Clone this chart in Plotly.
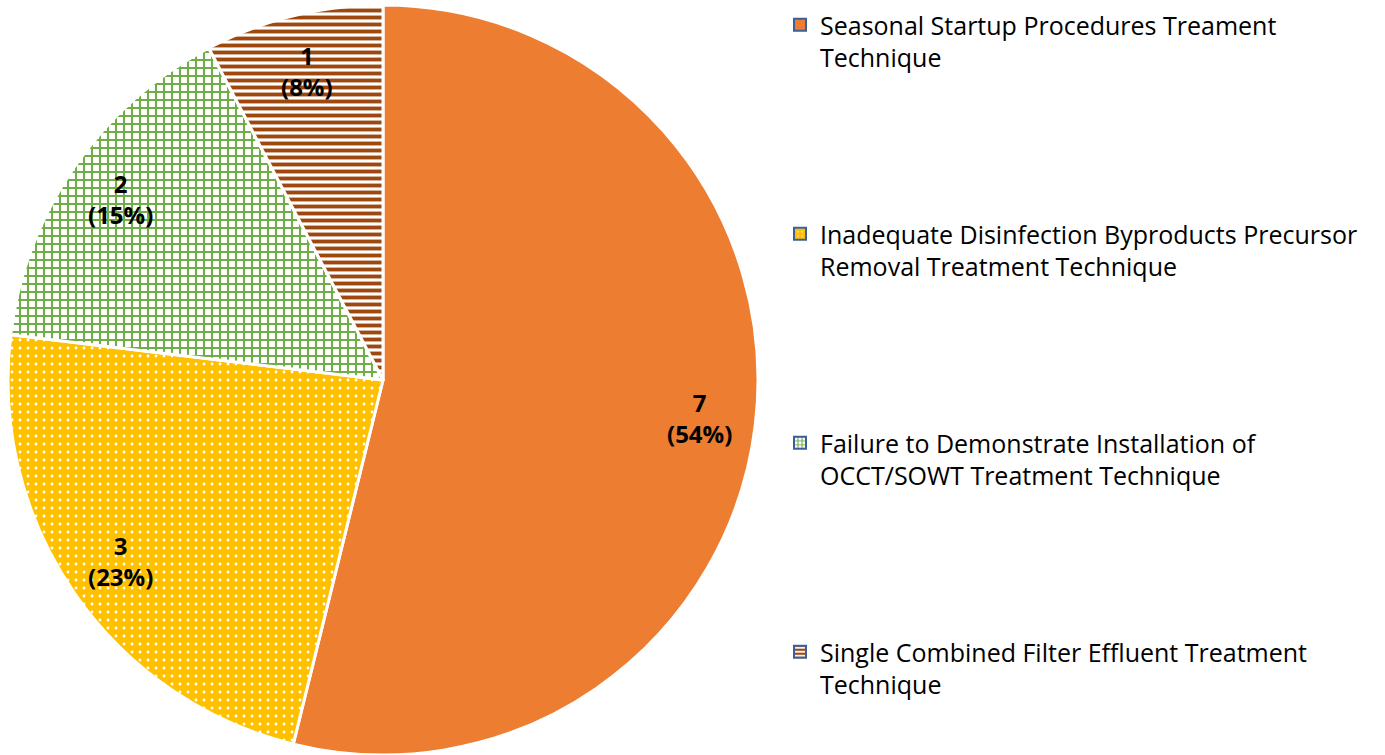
import math
import plotly.graph_objects as go

labels = [
    "Seasonal Startup Procedures Treament<br>Technique",
    "Inadequate Disinfection Byproducts Precursor<br>Removal Treatment Technique",
    "Failure to Demonstrate Installation of<br>OCCT/SOWT Treatment Technique",
    "Single Combined Filter Effluent Treatment<br>Technique",
]
counts = [7, 3, 2, 1]
percents = ["54%", "23%", "15%", "8%"]

bg_colors = ["#ED7D31", "#FFC000", "#FFFFFF", "#FFFFFF"]
fg_colors = ["#ED7D31", "#FFFFFF", "#70AD47", "#9E480E"]
shapes = ["", ".", "+", "-"]
sizes = [8, 8, 8, 7]
solids = [0.3, 0.1, 0.45, 0.55]

W, H = 1385, 755
CX, CY, R = 383, 380, 375

fig = go.Figure()
fig.add_trace(go.Pie(
    labels=labels, values=counts, sort=False, direction="clockwise",
    textinfo="none", hoverinfo="label+value+percent", showlegend=False,
    marker=dict(colors=bg_colors, line=dict(color="white", width=3),
                pattern=dict(shape=shapes, fgcolor=fg_colors, bgcolor=bg_colors,
                             size=sizes, solidity=solids, fillmode="replace")),
    domain=dict(x=[(CX - R) / W, (CX + R) / W],
                y=[1 - (CY + R) / H, 1 - (CY - R) / H]),
))

# legend entries via dummy bar traces (to style legend swatches)
for i, lab in enumerate(labels):
    fig.add_trace(go.Bar(
        x=[None], y=[None], name=lab, legendgroup=f"g{i}", showlegend=True,
        marker=dict(color=bg_colors[i], line=dict(color="#3A5F9B", width=2),
                    pattern=dict(shape=shapes[i], fgcolor=fg_colors[i], bgcolor=bg_colors[i],
                                 size=5, solidity=solids[i], fillmode="replace")),
    ))

# slice labels
total = sum(counts)
cum = 0
for c, p in zip(counts, percents):
    mid = (cum + c / 2) / total * 2 * math.pi
    cum += c
    px = CX + 0.85 * R * math.sin(mid)
    py = CY - 0.85 * R * math.cos(mid)
    fig.add_annotation(
        x=px / W, y=1 - py / H, xref="paper", yref="paper",
        xanchor="center", yanchor="middle",
        text=f"<b>{c}<br>({p})</b>", showarrow=False,
        font=dict(family="Open Sans", size=24, color="black"), align="center",
    )

fig.update_layout(
    width=W, height=H,
    margin=dict(l=0, r=0, t=0, b=0, autoexpand=False),
    paper_bgcolor="white", plot_bgcolor="white",
    xaxis=dict(visible=False), yaxis=dict(visible=False),
    legend=dict(x=780 / W, y=1 - 2 / H, xanchor="left", yanchor="top",
                font=dict(family="Open Sans", size=25, color="black"),
                tracegroupgap=141, valign="top", itemwidth=30,
                bgcolor="rgba(0,0,0,0)"),
    font=dict(family="Open Sans"),
)

fig.write_html("out.html", config={"displayModeBar": False},
               post_script="document.body.style.margin='0';document.body.style.padding='0';")
